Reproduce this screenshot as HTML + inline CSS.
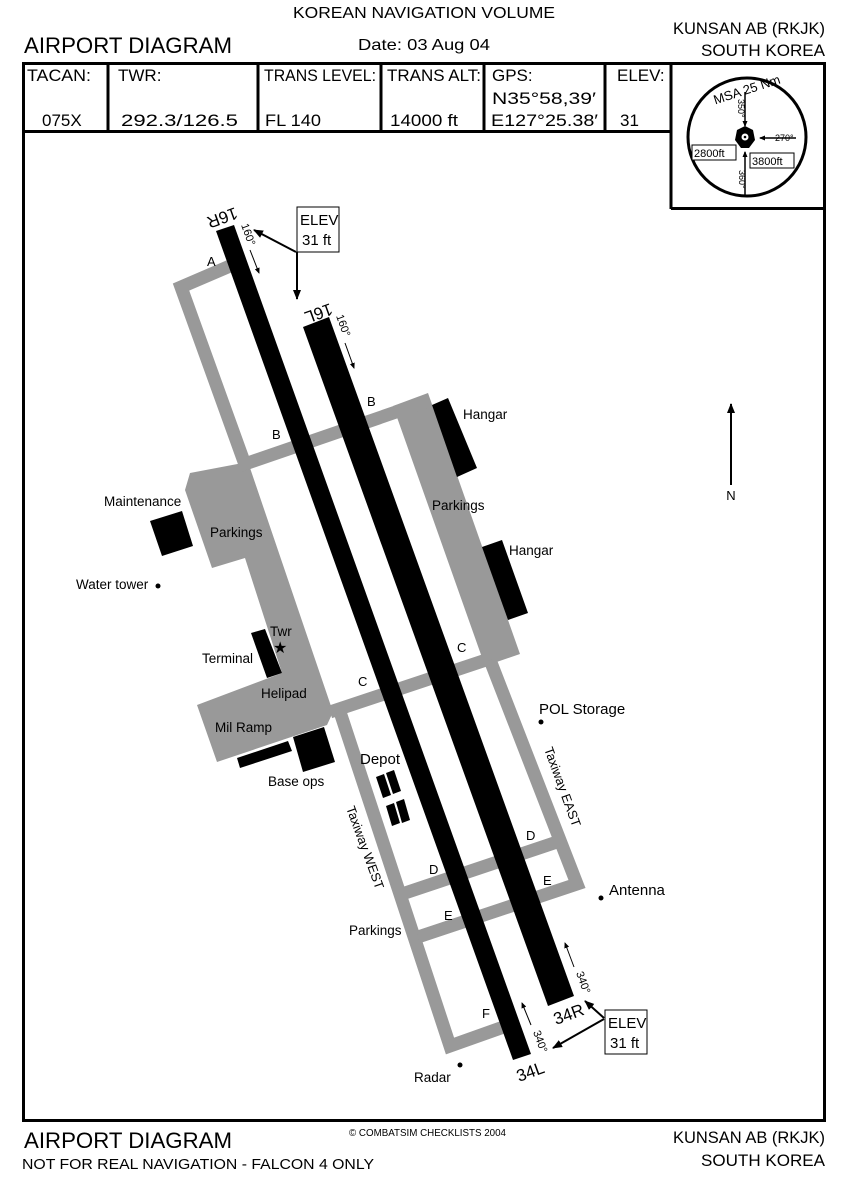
<!DOCTYPE html>
<html><head><meta charset="utf-8"><style>
html,body{margin:0;padding:0;background:#fff;}
svg{display:block;}
text{font-family:"Liberation Sans",sans-serif;fill:#000;}
</style></head><body>
<svg width="850" height="1181" viewBox="0 0 850 1181" xmlns="http://www.w3.org/2000/svg">
<defs>
<marker id="ah" markerWidth="10" markerHeight="10" refX="9" refY="5" orient="auto" markerUnits="userSpaceOnUse"><path d="M0,1 L10,5 L0,9 z" fill="#000"/></marker>
<marker id="sa" markerWidth="6" markerHeight="6" refX="5" refY="3" orient="auto" markerUnits="userSpaceOnUse"><path d="M0,0.5 L6,3 L0,5.5 z" fill="#000"/></marker>
</defs>
<text x="424" y="18" font-size="16" text-anchor="middle" textLength="262" lengthAdjust="spacingAndGlyphs">KOREAN NAVIGATION VOLUME</text>
<text x="24" y="53" font-size="22" textLength="208" lengthAdjust="spacingAndGlyphs">AIRPORT DIAGRAM</text>
<text x="358" y="50" font-size="16" textLength="132" lengthAdjust="spacingAndGlyphs">Date: 03 Aug 04</text>
<text x="825" y="34" font-size="17" text-anchor="end" textLength="152" lengthAdjust="spacingAndGlyphs">KUNSAN AB (RKJK)</text>
<text x="825" y="56" font-size="17" text-anchor="end" textLength="124" lengthAdjust="spacingAndGlyphs">SOUTH KOREA</text>
<rect x="23.5" y="63.5" width="801" height="1057" fill="none" stroke="#000" stroke-width="3"/>
<line x1="23" y1="131.5" x2="671" y2="131.5" stroke="#000" stroke-width="3"/>
<g stroke="#000" stroke-width="3">
<line x1="108" y1="63" x2="108" y2="132"/>
<line x1="258" y1="63" x2="258" y2="132"/>
<line x1="381" y1="63" x2="381" y2="132"/>
<line x1="484" y1="63" x2="484" y2="132"/>
<line x1="605" y1="63" x2="605" y2="132"/>
<line x1="671" y1="63" x2="671" y2="209"/>
<line x1="671" y1="208.5" x2="825" y2="208.5"/>
</g>
<g font-size="17">
<text x="27" y="81" textLength="64" lengthAdjust="spacingAndGlyphs">TACAN:</text>
<text x="42" y="126">075X</text>
<text x="118" y="81">TWR:</text>
<text x="121" y="126" textLength="117" lengthAdjust="spacingAndGlyphs">292.3/126.5</text>
<text x="264" y="81" textLength="112" lengthAdjust="spacingAndGlyphs">TRANS LEVEL:</text>
<text x="265" y="126" textLength="56" lengthAdjust="spacingAndGlyphs">FL 140</text>
<text x="387" y="81" textLength="94" lengthAdjust="spacingAndGlyphs">TRANS ALT:</text>
<text x="390" y="126" textLength="68" lengthAdjust="spacingAndGlyphs">14000 ft</text>
<text x="492" y="81">GPS:</text>
<text x="492" y="104" textLength="104" lengthAdjust="spacingAndGlyphs">N35°58,39′</text>
<text x="491" y="126" textLength="107" lengthAdjust="spacingAndGlyphs">E127°25.38′</text>
<text x="617" y="81">ELEV:</text>
<text x="620" y="126">31</text>
</g>
<circle cx="747" cy="137" r="59" fill="none" stroke="#000" stroke-width="3"/>
<text x="747" y="94" font-size="13" text-anchor="middle" transform="rotate(-18 747 90)">MSA 25 Nm</text>
<line x1="745" y1="92" x2="745" y2="126" stroke="#000" stroke-width="1.5" marker-end="url(#sa)"/>
<line x1="796" y1="138" x2="760" y2="138" stroke="#000" stroke-width="1.5" marker-end="url(#sa)"/>
<line x1="745" y1="196" x2="745" y2="152" stroke="#000" stroke-width="1.5" marker-end="url(#sa)"/>
<path d="M737,130 L745,126 L753,130 L755,140 L749,148 L741,148 L735,140 Z" fill="#000"/>
<circle cx="745" cy="137" r="3.5" fill="#fff"/><circle cx="745" cy="137" r="1.3" fill="#000"/>
<text x="738" y="99" font-size="9" transform="rotate(90 738 99)">350°</text>
<text x="775" y="141" font-size="9">270°</text>
<text x="739" y="170" font-size="9" transform="rotate(90 739 170)">360°</text>
<rect x="692" y="145" width="44" height="15" fill="#fff" stroke="#000" stroke-width="1"/>
<text x="694" y="157" font-size="11">2800ft</text>
<rect x="750" y="153" width="44" height="15" fill="#fff" stroke="#000" stroke-width="1"/>
<text x="752" y="165" font-size="11">3800ft</text>
<g fill="#999" stroke="none">
<polygon points="190,473 248,462 333,712 327,725 217,762 197,705 282,673 245,558 212,568 185,490"/>
<polygon points="393,406 428,393 520,654 485,666"/>
</g>
<g stroke="#999" stroke-width="13" fill="none" stroke-linejoin="miter">
<polyline points="230,266 181,287 247,470"/>
<line x1="245" y1="464" x2="428" y2="401"/>
<line x1="330" y1="712" x2="495" y2="657"/>
<polyline points="340,712 450,1046 512,1024"/>
<polyline points="490,660 577,884 418,937"/>
<line x1="405" y1="893" x2="560" y2="841"/>
</g>
<polygon points="216,231 234,225 531,1054 513,1060" fill="#000"/>
<polygon points="303,327 329,317 574,996 548,1006" fill="#000"/>
<g fill="#000">
<polygon points="150,521 182,511 193,546 162,556"/>
<polygon points="251,633 265,629 282,673 267,678"/>
<polygon points="293,737 324,727 335,762 303,772"/>
<polygon points="237,758 288,741 292,751 240,768"/>
<polygon points="432,405 448,398 477,468 457,477"/>
<polygon points="482,547 502,540 528,613 508,620"/>
<polygon points="376,777 384,774 391,795 383,798"/>
<polygon points="386,773 394,770 401,791 393,794"/>
<polygon points="386,806 394,803 400,823 392,826"/>
<polygon points="396,802 404,799 410,820 402,823"/>
</g>
<text font-size="17" transform="translate(235,207) rotate(160)">16R</text>
<text font-size="17" transform="translate(330,303) rotate(160)">16L</text>
<text font-size="17" transform="translate(556,1025) rotate(-20)">34R</text>
<text font-size="17" transform="translate(519,1082) rotate(-20)">34L</text>
<text font-size="11" transform="translate(241,225) rotate(70)">160°</text>
<line x1="250" y1="250" x2="259" y2="273" stroke="#000" stroke-width="1" marker-end="url(#sa)"/>
<text font-size="11" transform="translate(336,316) rotate(70)">160°</text>
<line x1="345" y1="343" x2="354" y2="368" stroke="#000" stroke-width="1" marker-end="url(#sa)"/>
<line x1="574" y1="967" x2="565" y2="943" stroke="#000" stroke-width="1" marker-end="url(#sa)"/>
<text font-size="11" transform="translate(576,973) rotate(70)">340°</text>
<line x1="531" y1="1025" x2="522" y2="1003" stroke="#000" stroke-width="1" marker-end="url(#sa)"/>
<text font-size="11" transform="translate(533,1032) rotate(70)">340°</text>
<rect x="297" y="207" width="42" height="45" fill="#fff" stroke="#000" stroke-width="1"/>
<text x="300" y="225" font-size="15">ELEV</text><text x="302" y="245" font-size="15">31 ft</text>
<line x1="296" y1="252" x2="254" y2="230" stroke="#000" stroke-width="2" marker-end="url(#ah)"/>
<line x1="297" y1="252" x2="297" y2="299" stroke="#000" stroke-width="2" marker-end="url(#ah)"/>
<rect x="605" y="1010" width="42" height="44" fill="#fff" stroke="#000" stroke-width="1"/>
<text x="608" y="1028" font-size="15">ELEV</text><text x="610" y="1048" font-size="15">31 ft</text>
<line x1="604" y1="1018" x2="585" y2="1001" stroke="#000" stroke-width="2" marker-end="url(#ah)"/>
<line x1="604" y1="1019" x2="553" y2="1048" stroke="#000" stroke-width="2" marker-end="url(#ah)"/>
<g font-size="13">
<text x="207" y="266">A</text>
<text x="272" y="439">B</text>
<text x="367" y="406">B</text>
<text x="358" y="686">C</text>
<text x="457" y="652">C</text>
<text x="429" y="874">D</text>
<text x="526" y="840">D</text>
<text x="444" y="920">E</text>
<text x="543" y="885">E</text>
<text x="482" y="1018">F</text>
</g>
<g font-size="13.5">
<text x="463" y="419">Hangar</text>
<text x="509" y="555">Hangar</text>
<text x="432" y="510">Parkings</text>
<text x="210" y="537">Parkings</text>
<text x="104" y="506">Maintenance</text>
<text x="76" y="589">Water tower</text>
<text x="270" y="636">Twr</text>
<text x="202" y="663">Terminal</text>
<text x="261" y="698">Helipad</text>
<text x="215" y="732">Mil Ramp</text>
<text x="268" y="786">Base ops</text>
<text x="360" y="764" font-size="15">Depot</text>
<text x="539" y="714" font-size="15">POL Storage</text>
<text x="609" y="895" font-size="15">Antenna</text>
<text x="349" y="935">Parkings</text>
<text x="414" y="1082">Radar</text>
<text font-size="13" transform="translate(544,749) rotate(70)">Taxiway EAST</text>
<text font-size="13" transform="translate(346,808) rotate(70)">Taxiway WEST</text>
</g>
<text x="273" y="653" font-size="16">★</text>
<g fill="#000">
<circle cx="158" cy="586" r="2.5"/>
<circle cx="541" cy="722" r="2.5"/>
<circle cx="601" cy="898" r="2.5"/>
<circle cx="460" cy="1065" r="2.5"/>
</g>
<line x1="731" y1="485" x2="731" y2="404" stroke="#000" stroke-width="2" marker-end="url(#ah)"/>
<text x="731" y="500" font-size="13" text-anchor="middle">N</text>
<text x="24" y="1148" font-size="22" textLength="208" lengthAdjust="spacingAndGlyphs">AIRPORT DIAGRAM</text>
<text x="22" y="1169" font-size="15" textLength="352" lengthAdjust="spacingAndGlyphs">NOT FOR REAL NAVIGATION - FALCON 4 ONLY</text>
<text x="349" y="1136" font-size="10" textLength="157" lengthAdjust="spacingAndGlyphs">© COMBATSIM CHECKLISTS 2004</text>
<text x="825" y="1143" font-size="17" text-anchor="end" textLength="152" lengthAdjust="spacingAndGlyphs">KUNSAN AB (RKJK)</text>
<text x="825" y="1166" font-size="17" text-anchor="end" textLength="124" lengthAdjust="spacingAndGlyphs">SOUTH KOREA</text>
</svg>
</body></html>
